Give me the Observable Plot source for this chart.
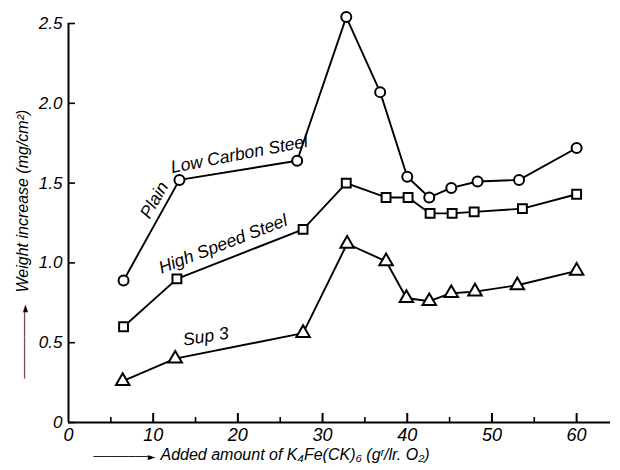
<!DOCTYPE html>
<html>
<head>
<meta charset="utf-8">
<script src="https://cdn.jsdelivr.net/npm/d3@7"></script>
<script src="https://cdn.jsdelivr.net/npm/@observablehq/plot@0.6"></script>
<style>
  html, body { margin: 0; padding: 0; background: white; }
  svg text { font-style: italic; }
</style>
</head>
<body>
<div id="chart"></div>
<script>
// ---- data ----
const xPlain = [6.5, 13.1, 27.0, 32.8, 36.8, 40.0, 42.6, 45.2, 48.3, 53.2, 60.0];
const yPlain = [0.89, 1.52, 1.64, 2.54, 2.07, 1.54, 1.41, 1.47, 1.51, 1.52, 1.72];
const xHigh  = [6.5, 12.8, 27.7, 32.8, 37.5, 40.1, 42.7, 45.3, 47.9, 53.6, 60.0];
const yHigh  = [0.60, 0.90, 1.21, 1.50, 1.41, 1.41, 1.31, 1.31, 1.32, 1.34, 1.43];
const xSup   = [6.4, 12.6, 27.7, 32.9, 37.5, 39.9, 42.6, 45.2, 48.0, 53.0, 60.0];
const ySup   = [0.26, 0.40, 0.56, 1.12, 1.01, 0.78, 0.76, 0.81, 0.82, 0.86, 0.95];
const seriesNames = ["Plain Low Carbon Steel", "High Speed Steel", "Sup 3"];
const seriesSymbols = ["circle", "square", "triangle"];
const xMajorTicks = [10, 20, 30, 40, 50, 60];
const xMinorTicks = [5, 15, 25, 35, 45, 55];
const xTickLabels = [0, 10, 20, 30, 40, 50, 60];
const yTicks = [0, 0.5, 1.0, 1.5, 2.0, 2.5];
const yTitle = "Weight increase (mg/cm²)";
const xTitle = "Added amount of K₄Fe(CK)₆ (gʳ/lr. O₂)";

// ---- build table ----
const xs = [xPlain, xHigh, xSup];
const ys = [yPlain, yHigh, ySup];
const rows = [];
seriesNames.forEach((s, k) => xs[k].forEach((x, i) => rows.push({series: s, x, y: ys[k][i]})));

// labels placed along data segments
function along(xa, ya, i, t) {
  return {x: xa[i] + t * (xa[i + 1] - xa[i]), y: ya[i] + t * (ya[i + 1] - ya[i])};
}
const lblPlain = [{text: "Plain", ...along(xPlain, yPlain, 0, 0.8)}];
const lblLow = [{text: "Low Carbon Steel", ...along(xPlain, yPlain, 1, 0.5)}];
const lblHigh = [{text: seriesNames[1], ...along(xHigh, yHigh, 1, 0.5)}];
const lblSup = [{text: seriesNames[2], ...along(xSup, ySup, 1, 0.2)}];

const W = 620, H = 470, ML = 68, MR = 10, MT = 23, MB = 48;
const FW = W - ML - MR, FH = H - MT - MB;
const font = '"Liberation Sans", Arial, sans-serif';

const chart = Plot.plot({
  width: W, height: H,
  marginLeft: ML, marginRight: MR, marginTop: MT, marginBottom: MB,
  style: {fontFamily: font, fontStyle: "italic", background: "white", color: "black", overflow: "visible"},
  x: {domain: [0, 64], axis: null},
  y: {domain: [0, 2.5], axis: null},
  symbol: {domain: seriesNames, range: seriesSymbols},
  marks: [
    // axes lines
    Plot.ruleY([0], {stroke: "black", strokeWidth: 2}),
    Plot.ruleX([0], {stroke: "black", strokeWidth: 2}),
    // inward ticks
    Plot.tickX(xMajorTicks, {x: d => d, insetTop: FH - 9, stroke: "black", strokeWidth: 2}),
    Plot.tickX(xMinorTicks, {x: d => d, insetTop: FH - 5, stroke: "black", strokeWidth: 1.6}),
    Plot.tickY(yTicks, {y: d => d, insetRight: FW - 7, stroke: "black", strokeWidth: 1.6}),
    // tick labels
    Plot.axisX({ticks: xTickLabels, tickSize: 0, tickPadding: 6, fontSize: 18, fontStyle: "italic", label: null, tickFormat: d => String(d)}),
    Plot.axisY({ticks: yTicks, tickSize: 0, tickPadding: 6, fontSize: 17, fontStyle: "italic", label: null, tickFormat: d => d === 0 ? "0" : d.toFixed(1)}),
    // series lines and markers
    Plot.line(rows, {x: "x", y: "y", z: "series", stroke: "black", strokeWidth: 1.9}),
    Plot.dot(rows, {x: "x", y: "y", symbol: "series", r: 5, fill: "white", stroke: "black", strokeWidth: 2}),
    // series labels
    Plot.text(lblPlain, {x: "x", y: "y", text: "text", rotate: -60, dx: -14, dy: 0, fontSize: 17.5}),
    Plot.text(lblLow, {x: "x", y: "y", text: "text", rotate: -11, dx: 1, dy: -16, fontSize: 17.5}),
    Plot.text(lblHigh, {x: "x", y: "y", text: "text", rotate: -21, dx: -17, dy: -10, fontSize: 17.5}),
    Plot.text(lblSup, {x: "x", y: "y", text: "text", rotate: -9, dx: 5, dy: -17, fontSize: 17.5}),
    // axis titles
    Plot.text([yTitle], {frameAnchor: "bottom-left", text: d => d, rotate: -90, textAnchor: "start", dx: -41, dy: -130, fontSize: 16}),
    Plot.text(["───────────►"], {frameAnchor: "bottom-left", text: d => d, rotate: -90, textAnchor: "start", dx: -41, dy: -44, fontSize: 10, fontStyle: "normal", fontFamily: "DejaVu Sans", fill: "black"}),
    Plot.text([xTitle], {frameAnchor: "bottom-left", text: d => d, textAnchor: "start", dx: 92, dy: 37, fontSize: 16}),
    Plot.text(["─────────►"], {frameAnchor: "bottom-left", text: d => d, textAnchor: "start", dx: 25, dy: 37, fontSize: 10, fontStyle: "normal", fontFamily: "DejaVu Sans", fill: "black"})
  ]
});
document.getElementById("chart").appendChild(chart);
</script>
</body>
</html>
